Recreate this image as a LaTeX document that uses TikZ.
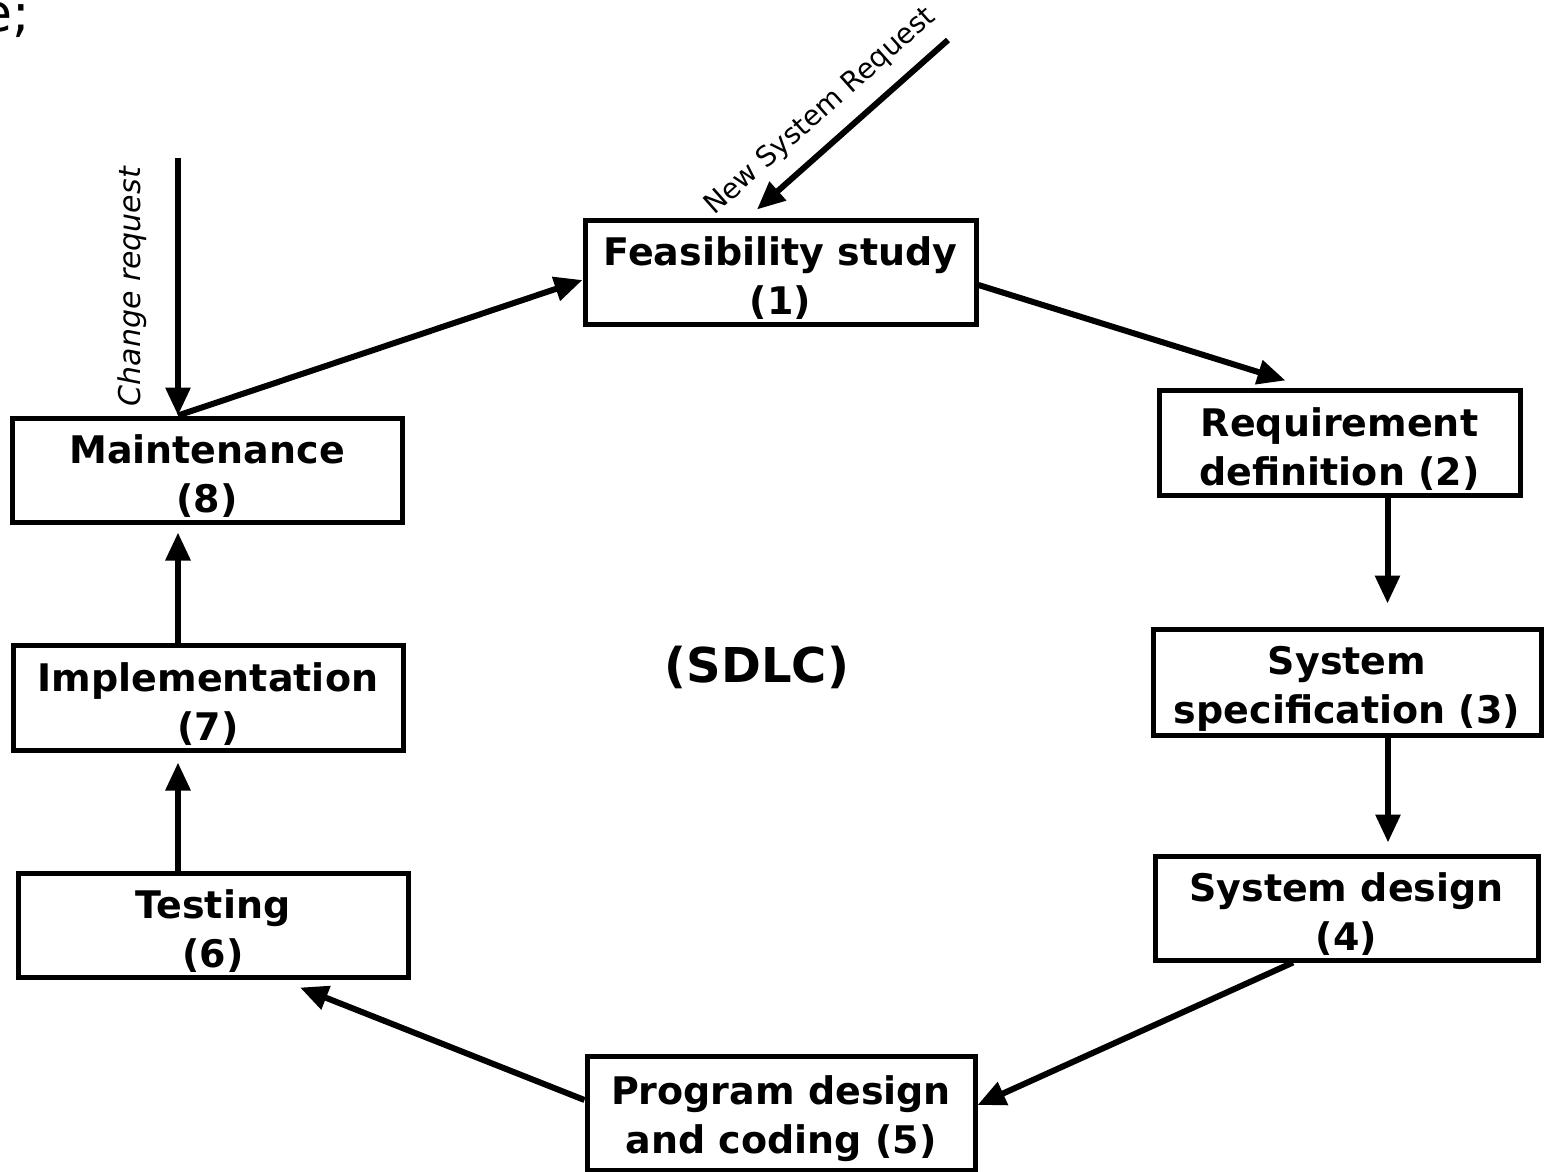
\documentclass[tikz,border=0pt]{standalone}
\usepackage{fontspec}
\setmainfont{DejaVu Sans}
\usetikzlibrary{arrows.meta}

\def \lineWidth {2.5pt}
\def \arrowWidth {3pt}
\def \boxFont {\fontsize{19}{24.5}\selectfont\bfseries}

\begin{document}
\begin{tikzpicture}[x=0.5pt, y=-0.5pt,
      phase/.style={draw, line width=\lineWidth, align=center, inner sep=0pt, text height=45pt, font=\boxFont},
      flow/.style={-{Triangle[length=14pt, width=12pt]}, line width=\arrowWidth}]
         \useasboundingbox (0,0) rectangle (1547,1172);
         \node[anchor=base east, inner sep=0pt, font=\fontsize{26}{30}\selectfont] (cut) at (30.5,32) {e;};
         \node[phase, minimum width=195.5pt, minimum height=52pt] (feas) at (780.5,272) {Feasibility study\\(1)};
         \node[phase, minimum width=180.5pt, minimum height=52.5pt] (req) at (1339.5,442.5) {Requirement\\definition (2)};
         \node[phase, minimum width=194pt, minimum height=53pt] (spec) at (1347,682) {System\\specification (3)};
         \node[phase, minimum width=191.5pt, minimum height=52pt] (design) at (1346.5,908) {System design\\(4)};
         \node[phase, minimum width=194pt, minimum height=57pt] (prog) at (781,1113) {Program design\\and coding (5)};
         \node[phase, minimum width=195pt, minimum height=52pt] (test) at (213,925) {Testing\\(6)};
         \node[phase, minimum width=195pt, minimum height=52.5pt] (impl) at (208,697.5) {Implementation\\(7)};
         \node[phase, minimum width=195pt, minimum height=52pt] (maint) at (207,470) {Maintenance\\(8)};
         \node[font=\fontsize{24}{28}\selectfont\bfseries] (sdlc) at (757,667) {(SDLC)};
         \coordinate (chg) at (178,158);
         \coordinate (nsr) at (948,40);
         \draw[flow] (chg) -- ([xshift=-14.5pt]maint.north)
            node[midway, rotate=90, anchor=south, inner sep=14pt, font=\fontsize{15}{18}\selectfont\itshape] {Change request};
         \draw[flow] (nsr) -- ([xshift=-11.75pt, yshift=4pt]feas.north)
            node[pos=0.56, sloped, above=4pt, font=\fontsize{14}{17}\selectfont] {New System Request};
         \draw[flow] ([xshift=-14.5pt]maint.north) -- ([yshift=-4pt]feas.west);
         \draw[flow] ([yshift=-6.5pt]feas.east) -- ([xshift=-27pt, yshift=3.5pt]req.north);
         \draw[flow, shorten >=11.5pt] ([xshift=24pt]req.south) -- ([xshift=24pt]req.south |- spec.north);
         \draw[flow, shorten >=5.5pt] ([xshift=20.5pt]spec.south) -- ([xshift=20.5pt]spec.south |- design.north);
         \draw[flow] ([xshift=-26.75pt]design.south) -- ([yshift=4pt]prog.east);
         \draw[flow] ([yshift=6.5pt]prog.west) -- ([xshift=43.5pt, yshift=-4pt]test.south);
         \draw[flow, shorten >=5pt] ([xshift=-17.5pt]test.north) -- ([xshift=-17.5pt]test.north |- impl.south);
         \draw[flow, shorten >=4pt] ([xshift=-15pt]impl.north) -- ([xshift=-15pt]impl.north |- maint.south);
      \end{tikzpicture}
\end{document}
